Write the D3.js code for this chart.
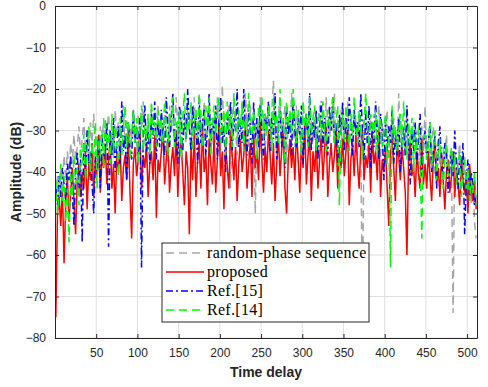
<!DOCTYPE html>
<html>
<head>
<meta charset="utf-8">
<script src="https://cdn.jsdelivr.net/npm/d3@7"></script>
<style>
  body { margin: 0; background: #fff; }
  svg { display: block; }
</style>
</head>
<body>
<div id="chart"></div>
<script>
// time delays sampled every 2 steps: 1, 3, 5, ... 511
const delays = d3.range(1, 512, 2);

const randomPhase = [
  -46,-41,-48,-39,-44,-36,-42,-35,-40,-33,-38,-31,-37,-34,-29,-36,
  -32,-27,-35,-30,-38,-28,-33,-26,-36,-31,-40,-29,-34,-27,-37,-30,
  -26,-33,-29,-37,-25,-31,-28,-35,-30,-24,-34,-27,-39,-29,-32,-25,
  -30,-36,-26,-33,-29,-23,-31,-38,-27,-34,-25,-30,-36,-28,-24,-33,
  -29,-35,-26,-31,-38,-24,-30,-27,-34,-22,-29,-36,-25,-31,-28,-33,
  -24,-30,-35,-27,-22,-32,-28,-38,-25,-30,-23,-34,-29,-26,-36,-31,
  -27,-33,-22,-29,-35,-19,-31,-26,-28,-24,-44,-27,-23,-30,-36,-26,
  -30,-25,-34,-21,-29,-36,-24,-31,-27,-50,-28,-33,-22,-30,-26,-35,
  -28,-23,-32,-25,-18,-30,-36,-26,-22,-33,-28,-24,-38,-27,-31,-21,
  -29,-34,-24,-31,-27,-37,-23,-30,-26,-35,-22,-28,-33,-25,-40,-29,
  -24,-31,-27,-36,-22,-29,-33,-26,-30,-21,-35,-28,-32,-25,-38,-27,
  -30,-23,-34,-27,-31,-25,-29,-36,-26,-33,-75,-28,-24,-35,-30,-27,
  -32,-26,-35,-29,-24,-37,-28,-33,-30,-25,-36,-29,-34,-27,-31,-38,
  -21,-33,-28,-36,-30,-26,-39,-31,-34,-28,-37,-30,-42,-32,-29,-35,
  -24,-36,-31,-39,-33,-29,-41,-35,-32,-38,-43,-34,-37,-31,-40,-36,
  -38,-74,-35,-42,-37,-33,-44,-39,-36,-46,-40,-38,-48,-42,-52,-56
];

const proposed = [
  -75,-50,-46,-53,-44,-62,-48,-41,-52,-45,-39,-47,-55,-42,-38,-46,
  -40,-44,-35,-49,-38,-42,-33,-46,-37,-41,-31,-45,-36,-39,-34,-43,
  -37,-32,-44,-38,-50,-35,-40,-33,-47,-39,-36,-42,-30,-45,-56,-38,
  -34,-41,-37,-30,-44,-36,-39,-33,-46,-38,-35,-42,-31,-51,-37,-40,
  -35,-29,-43,-37,-32,-45,-38,-34,-41,-30,-46,-36,-33,-40,-48,-35,
  -39,-55,-34,-42,-30,-46,-37,-33,-44,-29,-40,-36,-48,-32,-38,-43,
  -31,-45,-37,-28,-41,-35,-49,-33,-39,-44,-30,-36,-42,-34,-47,-38,
  -32,-40,-36,-29,-44,-38,-33,-46,-31,-39,-35,-42,-28,-37,-45,-34,
  -40,-30,-36,-43,-33,-47,-38,-31,-41,-35,-29,-44,-50,-37,-32,-39,
  -34,-42,-30,-37,-45,-33,-39,-28,-43,-36,-31,-47,-35,-40,-32,-44,
  -37,-31,-42,-35,-29,-46,-38,-33,-40,-36,-30,-44,-34,-39,-32,-41,
  -35,-29,-48,-37,-33,-41,-31,-38,-44,-34,-30,-42,-36,-39,-33,-45,
  -31,-38,-35,-42,-30,-46,-37,-40,-34,-44,-53,-36,-32,-39,-47,-33,
  -36,-42,-34,-39,-45,-60,-37,-33,-41,-38,-46,-35,-40,-44,-32,-43,
  -38,-44,-35,-41,-47,-37,-33,-43,-39,-46,-36,-42,-49,-40,-37,-45,
  -41,-35,-46,-39,-43,-48,-37,-42,-45,-40,-50,-38,-44,-47,-42,-49
];

const ref15 = [
  -44,-48,-41,-46,-39,-43,-47,-38,-42,-36,-45,-53,-40,-35,-44,-37,
  -57,-33,-41,-30,-38,-35,-43,-50,-36,-40,-32,-44,-31,-37,-34,-28,
  -58,-30,-36,-27,-40,-33,-29,-38,-23,-35,-31,-42,-28,-34,-37,-25,
  -33,-29,-36,-27,-63,-31,-24,-35,-30,-38,-26,-32,-23,-37,-28,-34,
  -25,-31,-36,-22,-29,-34,-27,-21,-33,-30,-38,-24,-28,-35,-26,-32,
  -20,-29,-35,-24,-31,-27,-38,-22,-33,-28,-25,-36,-30,-21,-34,-27,
  -31,-24,-37,-28,-22,-33,-29,-40,-26,-31,-23,-35,-27,-30,-20,-34,
  -28,-33,-20,-30,-36,-25,-29,-38,-23,-32,-27,-34,-24,-31,-37,-26,
  -30,-23,-35,-27,-32,-21,-37,-29,-25,-34,-28,-39,-24,-31,-26,-36,
  -22,-30,-34,-27,-31,-24,-38,-29,-26,-33,-21,-35,-28,-32,-25,-37,
  -29,-23,-34,-27,-31,-36,-24,-30,-22,-33,-28,-38,-26,-31,-23,-35,
  -27,-32,-22,-29,-36,-25,-31,-28,-34,-21,-30,-37,-26,-33,-24,-39,
  -28,-34,-23,-31,-37,-26,-30,-42,-27,-35,-29,-33,-25,-38,-31,-36,
  -27,-40,-32,-29,-36,-24,-33,-43,-30,-35,-28,-38,-32,-26,-41,-34,
  -30,-37,-33,-28,-40,-35,-31,-44,-34,-29,-38,-42,-33,-36,-45,-39,
  -35,-41,-30,-38,-44,-36,-40,-33,-55,-42,-37,-46,-40,-43,-48,-45
];

const ref14 = [
  -42,-50,-45,-38,-47,-41,-52,-44,-57,-40,-46,-36,-43,-39,-48,-34,
  -38,-31,-42,-35,-29,-40,-33,-37,-28,-44,-32,-36,-30,-39,-27,-34,
  -31,-38,-26,-35,-29,-33,-41,-27,-36,-30,-24,-34,-28,-37,-31,-25,
  -33,-27,-38,-30,-24,-35,-29,-32,-26,-36,-23,-31,-28,-34,-25,-30,
  -27,-33,-23,-30,-36,-26,-29,-22,-34,-28,-31,-25,-37,-27,-21,-32,
  -26,-30,-23,-35,-28,-25,-32,-21,-29,-34,-27,-24,-31,-22,-36,-28,
  -24,-31,-27,-22,-33,-29,-25,-36,-23,-30,-26,-34,-21,-28,-32,-25,
  -29,-23,-35,-27,-31,-21,-28,-33,-25,-30,-37,-24,-28,-22,-32,-26,
  -31,-24,-28,-35,-22,-29,-26,-33,-20,-30,-27,-38,-23,-29,-25,-31,
  -20,-28,-33,-25,-30,-36,-23,-29,-26,-34,-22,-31,-27,-24,-35,-28,
  -26,-32,-23,-29,-35,-25,-30,-27,-22,-33,-28,-24,-48,-30,-26,-33,
  -24,-29,-35,-26,-31,-22,-28,-33,-25,-30,-37,-27,-21,-29,-34,-26,
  -28,-32,-25,-36,-29,-27,-34,-30,-26,-38,-31,-63,-24,-33,-29,-35,
  -30,-26,-34,-23,-31,-37,-28,-33,-27,-40,-31,-35,-29,-36,-56,-32,
  -31,-37,-33,-28,-39,-34,-30,-42,-35,-32,-38,-44,-36,-33,-41,-37,
  -34,-40,-36,-43,-38,-35,-46,-41,-37,-44,-39,-47,-42,-45,-40,-48
];

const seriesNames = ["random-phase sequence", "proposed", "Ref.[15]", "Ref.[14]"];
const seriesColors = ["#a6a6a6", "#ff0000", "#0000ff", "#00ff00"];
const seriesDash = ["8,5", null, "7,3,2,3", "8,5"];
const seriesValues = [randomPhase, proposed, ref15, ref14];

const xTicks = [50, 100, 150, 200, 250, 300, 350, 400, 450, 500];
const yTicks = [0, -10, -20, -30, -40, -50, -60, -70, -80];

const width = 488, height = 387;
const margin = {top: 6, right: 11, bottom: 49, left: 55};

const svg = d3.select("#chart").append("svg")
  .attr("width", width)
  .attr("height", height)
  .style("font-family", "'Liberation Sans', Arial, sans-serif");

const x = d3.scaleLinear().domain([0, 512]).range([margin.left, width - margin.right]);
const y = d3.scaleLinear().domain([-80, 0]).range([height - margin.bottom, margin.top]);

const axisColor = "#262626";

// grid
svg.append("g").selectAll("line.vg")
  .data(xTicks).enter().append("line")
  .attr("x1", d => x(d)).attr("x2", d => x(d))
  .attr("y1", y(-80)).attr("y2", y(0))
  .attr("stroke", "#dfdfdf").attr("stroke-width", 1);
svg.append("g").selectAll("line.hg")
  .data(yTicks).enter().append("line")
  .attr("x1", x(0)).attr("x2", x(512))
  .attr("y1", d => y(d)).attr("y2", d => y(d))
  .attr("stroke", "#dfdfdf").attr("stroke-width", 1);

// data lines
svg.append("clipPath").attr("id", "clip")
  .append("rect")
  .attr("x", x(0)).attr("y", y(0))
  .attr("width", x(512) - x(0)).attr("height", y(-80) - y(0));

const line = d3.line()
  .x((d, i) => x(delays[i]))
  .y(d => y(d));

svg.append("g").attr("clip-path", "url(#clip)")
  .selectAll("path")
  .data(seriesValues)
  .enter().append("path")
  .attr("d", d => line(d))
  .attr("fill", "none")
  .attr("stroke", (d, i) => seriesColors[i])
  .attr("stroke-width", 1.5)
  .attr("stroke-dasharray", (d, i) => seriesDash[i]);

// axes (ticks inside, mirrored like matlab box)
const tickLen = 4;
const xAxisB = d3.axisBottom(x).tickValues(xTicks).tickSizeInner(-tickLen).tickSizeOuter(0).tickPadding(10);
const xAxisT = d3.axisTop(x).tickValues(xTicks).tickSizeInner(-tickLen).tickSizeOuter(0).tickFormat("");
const yAxisL = d3.axisLeft(y).tickValues(yTicks).tickSizeInner(-tickLen).tickSizeOuter(0).tickPadding(9);
const yAxisR = d3.axisRight(y).tickValues(yTicks).tickSizeInner(-tickLen).tickSizeOuter(0).tickFormat("");

const styleAxis = g => {
  g.select(".domain").attr("stroke", axisColor).attr("stroke-width", 1);
  g.selectAll(".tick line").attr("stroke", axisColor);
  g.selectAll(".tick text").attr("fill", axisColor).style("font-size", "12px");
};

svg.append("g").attr("transform", `translate(0,${y(-80)})`).call(xAxisB).call(styleAxis);
svg.append("g").attr("transform", `translate(0,${y(0)})`).call(xAxisT).call(styleAxis);
svg.append("g").attr("transform", `translate(${x(0)},0)`).call(yAxisL).call(styleAxis);
svg.append("g").attr("transform", `translate(${x(512)},0)`).call(yAxisR).call(styleAxis);
svg.selectAll(".tick text").attr("font-family", null);

// axis labels
svg.append("text")
  .attr("x", (x(0) + x(512)) / 2).attr("y", 377)
  .attr("text-anchor", "middle")
  .attr("font-weight", "bold").attr("font-size", 14)
  .attr("fill", axisColor)
  .text("Time delay");

svg.append("text")
  .attr("transform", `translate(21,${(y(0) + y(-80)) / 2}) rotate(-90)`)
  .attr("text-anchor", "middle")
  .attr("font-weight", "bold").attr("font-size", 14)
  .attr("fill", axisColor)
  .text("Amplitude (dB)");

// legend
const legend = svg.append("g").attr("transform", "translate(162,243)");
legend.append("rect")
  .attr("width", 207).attr("height", 79)
  .attr("fill", "#fff").attr("stroke", axisColor).attr("stroke-width", 1);

const items = legend.selectAll("g.item")
  .data(seriesNames).enter().append("g")
  .attr("transform", (d, i) => `translate(0,${10 + i * 19})`);
items.append("line")
  .attr("x1", 4).attr("x2", 42).attr("y1", 0).attr("y2", 0)
  .attr("stroke", (d, i) => seriesColors[i])
  .attr("stroke-width", 1.5)
  .attr("stroke-dasharray", (d, i) => seriesDash[i]);
items.append("text")
  .attr("x", 45).attr("y", 5)
  .attr("font-family", "'Liberation Serif', 'DejaVu Serif', serif")
  .attr("font-size", 16)
  .attr("letter-spacing", 0.3)
  .attr("fill", "#000")
  .text(d => d);
</script>
</body>
</html>
